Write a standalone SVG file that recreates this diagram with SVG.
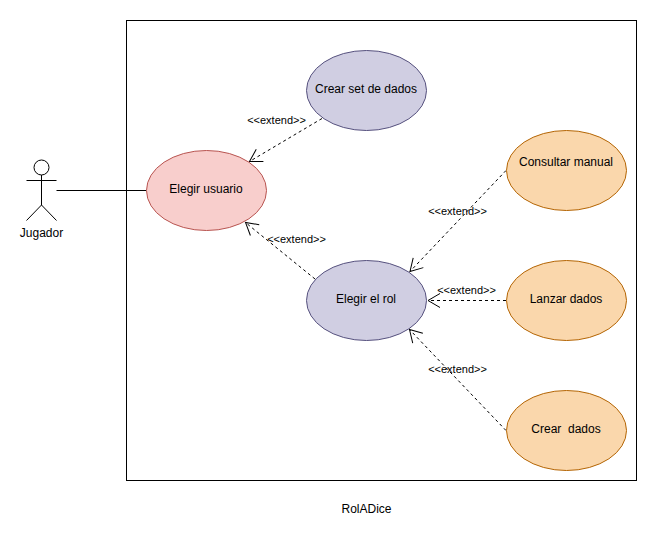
<svg xmlns="http://www.w3.org/2000/svg" width="658" height="542" viewBox="0 0 658 542">
<style>
text{font-family:"Liberation Sans",Arial,sans-serif;font-size:12px;fill:#000;text-anchor:middle}
.el{font-size:11px}
.p{fill:#d0cee2;stroke:#56517e}
.r{fill:#f8cecc;stroke:#b85450}
.o{fill:#fad7ac;stroke:#b46504}
.ln{fill:none;stroke:#000}
.d{fill:none;stroke:#000;stroke-dasharray:3 3}
</style>
<defs>
<marker id="open" markerUnits="userSpaceOnUse" markerWidth="20" markerHeight="20" refX="17" refY="10" orient="auto" overflow="visible"><path d="M5 3L17 10L5 17" fill="none" stroke="#000"/></marker>
</defs>
<rect id="system" x="126.5" y="20.5" width="510" height="460" fill="#fff" stroke="#000"/>
<g id="connectors">
<path class="ln" d="M56.5 190.500H146.500"/>
<path class="d" marker-end="url(#open)" d="M322 118.500L249.500 161.500"/>
<path class="d" marker-end="url(#open)" d="M315 279L245.500 222.500"/>
<path class="d" marker-end="url(#open)" d="M506 170.500L410 271.500"/>
<path class="d" marker-end="url(#open)" d="M506 300.500H428"/>
<path class="d" marker-end="url(#open)" d="M506 430.500L409.500 329.500"/>
<text class="el" x="276.500" y="124">&lt;&lt;extend&gt;&gt;</text>
<text class="el" x="296.500" y="243">&lt;&lt;extend&gt;&gt;</text>
<text class="el" x="457.500" y="215">&lt;&lt;extend&gt;&gt;</text>
<text class="el" x="466.500" y="294">&lt;&lt;extend&gt;&gt;</text>
<text class="el" x="457.500" y="373">&lt;&lt;extend&gt;&gt;</text>
</g>
<g id="jugador">
<circle class="ln" cx="41.500" cy="167.500" r="7.500"/>
<path class="ln" d="M41.500 175V205M26.500 180.500H56.500M41.500 205L26.500 220.500M41.500 205L56.500 220.500"/>
<text x="41.500" y="237">Jugador</text>
</g>
<g id="crear-set"><ellipse class="p" cx="366.500" cy="90.500" rx="60" ry="40"/><text x="366" y="93">Crear set de dados</text></g>
<g id="elegir-usuario"><ellipse class="r" cx="206.500" cy="190.500" rx="60" ry="40"/><text x="206" y="193">Elegir usuario</text></g>
<g id="elegir-rol"><ellipse class="p" cx="366.500" cy="300.500" rx="60" ry="40"/><text x="366" y="303">Elegir el rol</text></g>
<g id="consultar"><ellipse class="o" cx="566.500" cy="170.500" rx="60" ry="40"/><text x="566" y="166">Consultar manual</text></g>
<g id="lanzar"><ellipse class="o" cx="566.500" cy="300.500" rx="60" ry="40"/><text x="566" y="303">Lanzar dados</text></g>
<g id="crear-dados"><ellipse class="o" cx="566.500" cy="430.500" rx="60" ry="40"/><text x="566" y="433" xml:space="preserve">Crear  dados</text></g>
<text x="366.500" y="513">RolADice</text>
</svg>
